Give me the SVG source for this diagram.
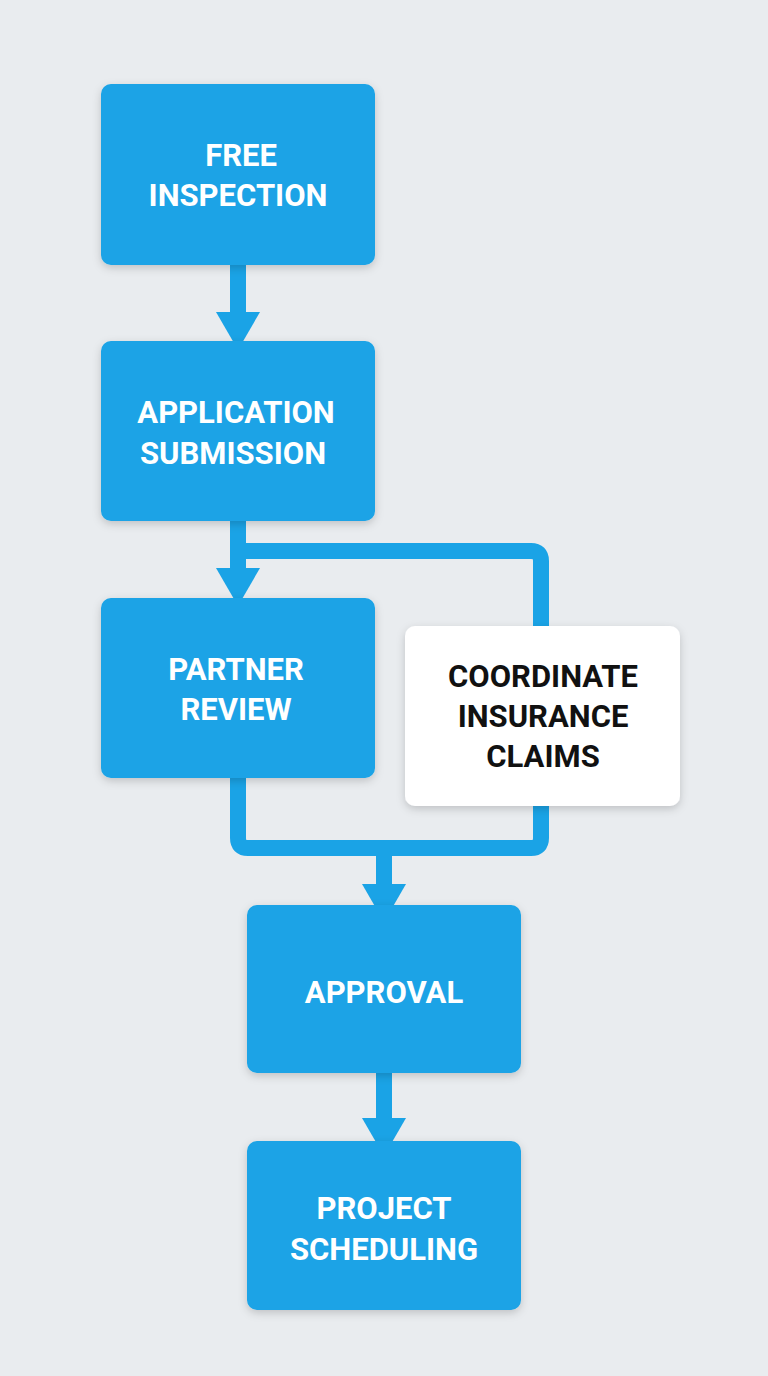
<svg xmlns="http://www.w3.org/2000/svg" width="768" height="1376" viewBox="0 0 768 1376">
<defs>
<style>
.b{fill:#1AA3E6}
.w{fill:#ffffff}
.t{font-family:Roboto,"Liberation Sans",sans-serif;font-weight:bold;font-size:31px;text-anchor:middle;fill:#fff}
.k{fill:#111}
.c{fill:none;stroke:#1AA3E6;stroke-width:16;stroke-linejoin:round}
.h{fill:#1AA3E6}
</style>
<filter id="s" x="-10%" y="-10%" width="120%" height="130%"><feDropShadow dx="0" dy="3" stdDeviation="4" flood-opacity="0.18"/></filter>
</defs>
<rect width="768" height="1376" fill="#E9ECEF"/>
<g id="connectors">
<path class="c" d="M238 265V318"/>
<polygon class="h" points="216,312 260,312 238,350"/>
<path class="c" d="M238 521V575"/>
<polygon class="h" points="216,568 260,568 238,606"/>
<path class="c" d="M238 551H531Q541 551 541 561V630"/>
<path class="c" d="M238 778V838Q238 848 248 848H531Q541 848 541 838V800"/>
<path class="c" d="M384 848V890"/>
<polygon class="h" points="362,884 406,884 384,922"/>
<path class="c" d="M384 1073V1125"/>
<polygon class="h" points="362,1118 406,1118 384,1156"/>
</g>
<g id="free-inspection"><rect class="b" x="101" y="84" width="274" height="181" rx="10" filter="url(#s)"/><text class="t" x="241" y="166">FREE</text><text class="t" x="238" y="206">INSPECTION</text></g>
<g id="application-submission"><rect class="b" x="101" y="341" width="274" height="180" rx="10" filter="url(#s)"/><text class="t" x="236" y="423">APPLICATION</text><text class="t" x="233" y="464">SUBMISSION</text></g>
<g id="partner-review"><rect class="b" x="101" y="598" width="274" height="180" rx="10" filter="url(#s)"/><text class="t" x="236" y="680">PARTNER</text><text class="t" x="236" y="720">REVIEW</text></g>
<g id="coordinate-insurance-claims"><rect class="w" x="405" y="626" width="275" height="180" rx="10" filter="url(#s)"/><text class="t k" x="543" y="687">COORDINATE</text><text class="t k" x="543" y="727">INSURANCE</text><text class="t k" x="543" y="767">CLAIMS</text></g>
<g id="approval"><rect class="b" x="247" y="905" width="274" height="168" rx="10" filter="url(#s)"/><text class="t" x="384" y="1003">APPROVAL</text></g>
<g id="project-scheduling"><rect class="b" x="247" y="1141" width="274" height="169" rx="10" filter="url(#s)"/><text class="t" x="384" y="1219">PROJECT</text><text class="t" x="384" y="1260">SCHEDULING</text></g>
</svg>
